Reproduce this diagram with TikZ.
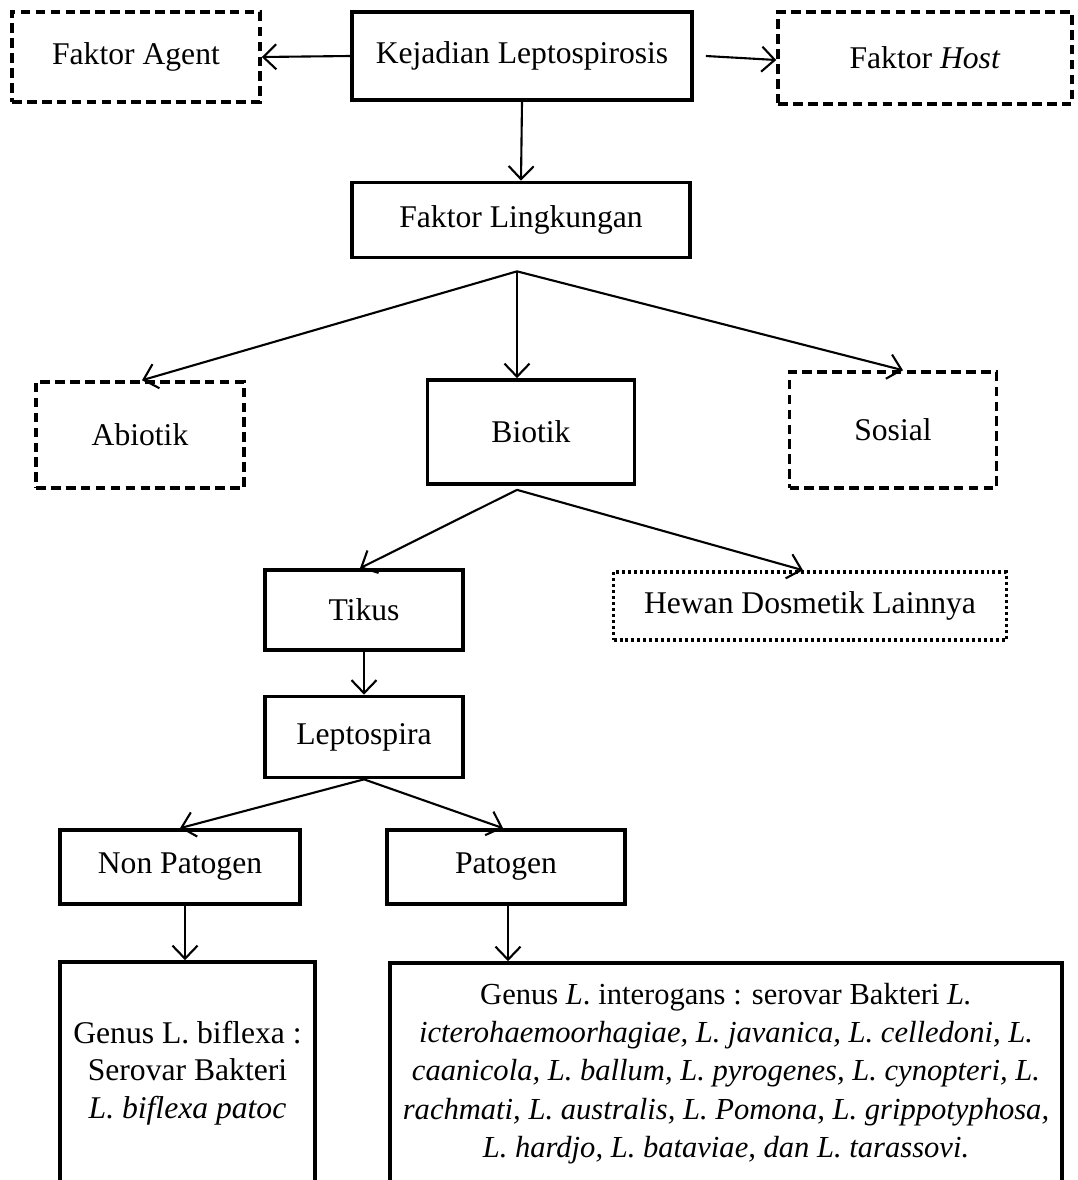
\documentclass[tikz,border=0pt]{standalone}
\usepackage{fontspec}
\setmainfont{Liberation Serif}
\usepackage{tikz}
\usetikzlibrary{arrows.meta}
\usetikzlibrary{positioning,calc}

\begin{document}
\begin{tikzpicture}[x=0.02cm,y=-0.02cm,
        font=\fontsize{18}{21.5}\selectfont,
        box/.style={draw, line width=2.1pt, align=center, inner sep=0pt},
        dashbox/.style={box, line width=2pt, dash pattern=on 5.5pt off 3pt},
        dotbox/.style={box, line width=2pt, dash pattern=on 1.7pt off 1.7pt},
        arr/.style={line width=1.2pt, -{Straight Barb[length=2.6mm,width=5mm]}}]
        \useasboundingbox (0,0) rectangle (1078,1180);
        \clip (0,0) rectangle (1078,1180);
        % Top row
        \node[dashbox, minimum width=4.96cm, minimum height=1.8cm] (agent) at (136,57) {Faktor Agent};
        \node[box, minimum width=6.8cm, minimum height=1.76cm] (kejadian) at (522,56) {Kejadian Leptospirosis};
        \node[dashbox, minimum width=5.88cm, minimum height=1.84cm] (host) at (925,58) {Faktor \textit{Host}};
        \node[box, minimum width=6.76cm, minimum height=1.5cm] (lingkungan) at (521,220) {Faktor Lingkungan};
        % Environment factors
        \node[dashbox, minimum width=4.16cm, minimum height=2.12cm] (abiotik) at (140,435) {Abiotik};
        \node[box, minimum width=4.14cm, minimum height=2.08cm] (biotik) at (531,432) {Biotik};
        \node[dashbox, minimum width=4.14cm, minimum height=2.32cm] (sosial) at (893,430) {Sosial};
        \node[box, minimum width=3.96cm, minimum height=1.6cm] (tikus) at (364,610) {Tikus};
        \node[dotbox, minimum width=7.86cm, minimum height=1.36cm] (hewan) at (810,606) {Hewan Dosmetik Lainnya};
        \node[box, minimum width=3.96cm, minimum height=1.62cm] (leptospira) at (364,737) {Leptospira};
        \node[box, minimum width=4.8cm, minimum height=1.48cm] (nonpatogen) at (180,867) {Non Patogen};
        \node[box, minimum width=4.76cm, minimum height=1.48cm] (patogen) at (506,867) {Patogen};
        % Serovar boxes (cut at the bottom)
        \node[box, minimum width=5.1cm, minimum height=4.44cm] (biflexa) at (187.5,1073)
            {Genus L. biflexa :\\ Serovar Bakteri\\ \textit{L. biflexa patoc}};
        \node[box, minimum width=13.44cm, minimum height=4.42cm, font=\fontsize{17.4}{21.8}\selectfont] (interogans) at (726,1073.5)
            {Genus \textit{L}. interogans : serovar Bakteri \textit{L.}\\
             \textit{icterohaemoorhagiae, L. javanica, L. celledoni, L.}\\
             \textit{caanicola, L. ballum, L. pyrogenes, L. cynopteri, L.}\\
             \textit{rachmati, L. australis, L. Pomona, L. grippotyphosa,}\\
             \textit{L. hardjo, L. bataviae, dan L. tarassovi.}};
        % Split points
        \coordinate (lingsplit) at ($(lingkungan.south)+(-4,12)$);
        \coordinate (biosplit) at ($(biotik.south)+(-14,4)$);
        % Arrows
        \draw[arr] (kejadian.west) -- (agent.east);
        \draw[arr] ($(kejadian.east)+(12,0)$) -- ($(host.west)+(0,2)$);
        \draw[arr] (kejadian.south) -- (lingkungan.north);
        \draw[arr] (lingsplit) -- ($(abiotik.north)+(2,0)$);
        \draw[arr] (lingsplit) -- (lingsplit |- biotik.north);
        \draw[arr] (lingsplit) -- ($(sosial.north)+(10,0)$);
        \draw[arr] (biosplit) -- ($(tikus.north)+(-4,0)$);
        \draw[arr] (biosplit) -- ($(hewan.north)+(-7,0)$);
        \draw[arr] (tikus.south) -- (leptospira.north);
        \draw[arr] (leptospira.south) -- (nonpatogen.north);
        \draw[arr] (leptospira.south) -- ($(patogen.north)+(-3,0)$);
        \draw[arr] ($(nonpatogen.south)+(5,0)$) -- ($(biflexa.north)+(-2.5,0)$);
        \draw[arr] ($(patogen.south)+(2,0)$) -- ($(interogans.north -| patogen.south)+(2,0)$);
\end{tikzpicture}
\end{document}
